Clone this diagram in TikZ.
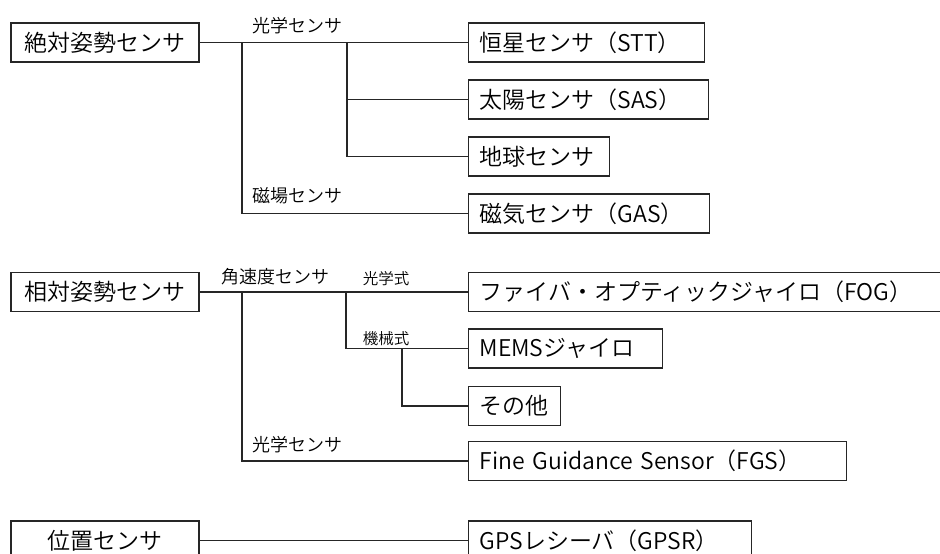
\documentclass[tikz,border=0pt]{standalone}
\usepackage{fontspec}
\setmainfont{Noto Sans CJK JP}[UprightFont={* DemiLight}]
\begin{document}
\begin{tikzpicture}[x=1pt,y=-1pt,
  line/.style={draw=black!85,line width=1.1pt},
  lbox/.style={draw=black!85,line width=1.1pt,minimum width=188pt,minimum height=39pt,inner sep=0pt,font=\fontsize{23}{23}\selectfont,text=black},
  rbox/.style={draw=black!85,line width=1.1pt,anchor=west,minimum height=39pt,inner xsep=11pt,inner ysep=0pt,align=left,font=\fontsize{23}{23}\selectfont,text=black},
  lab/.style={font=\fontsize{18}{18}\selectfont,inner sep=0pt,text=black},
  slab/.style={font=\fontsize{15.5}{15.5}\selectfont,inner sep=0pt,text=black}]
\useasboundingbox (0,0) rectangle (940,554);
% left boxes
\node[lbox] (abs) at (105,42.5) {絶対姿勢センサ};
\node[lbox] (rel) at (105,292) {相対姿勢センサ};
\node[lbox] (pos) at (105,540.5) {位置センサ};
% right boxes
\node[rbox,text width=214pt] (stt) at (468,42.5) {恒星センサ（STT）};
\node[rbox,text width=218pt] (sas) at (468,99.5) {太陽センサ（SAS）};
\node[rbox,text width=119pt] (earth) at (468,156.5) {地球センサ};
\node[rbox,text width=219pt] (gas) at (468,213.5) {磁気センサ（GAS）};
\node[rbox,text width=454pt] (fog) at (468,292) {ファイバ・オプティックジャイロ（FOG）};
\node[rbox,text width=172pt] (mems) at (468,348.5) {MEMSジャイロ};
\node[rbox,text width=70pt] (other) at (468,406) {その他};
\node[rbox,text width=356pt] (fgs) at (468,461) {Fine Guidance Sensor（FGS）};
\node[rbox,text width=261pt] (gps) at (468,540.5) {GPSレシーバ（GPSR）};
% junctions
\coordinate (ja) at (242,42.5);
\coordinate (jb) at (347,42.5);
\coordinate (jc) at (347,99.5);
\coordinate (jd) at (242,292);
\coordinate (je) at (346,292);
\coordinate (jf) at (402,348.5);
% connectors top
\draw[line] (abs.east) -- (stt.west);
\draw[line] (ja) |- (gas.west);
\draw[line] (jb) |- (earth.west);
\draw[line] (jc) -- (sas.west);
% connectors middle
\draw[line] (rel.east) -- (fog.west);
\draw[line] (jd) |- (fgs.west);
\draw[line] (je) |- (mems.west);
\draw[line] (jf) |- (other.west);
% bottom
\draw[line] (pos.east) -- (gps.west);
% labels
\node[lab] (l1) at (297,26) {光学センサ};
\node[lab] (l2) at (297,196) {磁場センサ};
\node[lab] (l3) at (275,277) {角速度センサ};
\node[slab] (l4) at (386,279) {光学式};
\node[slab] (l5) at (386,339) {機械式};
\node[lab] (l6) at (297,445) {光学センサ};
\end{tikzpicture}
\end{document}
